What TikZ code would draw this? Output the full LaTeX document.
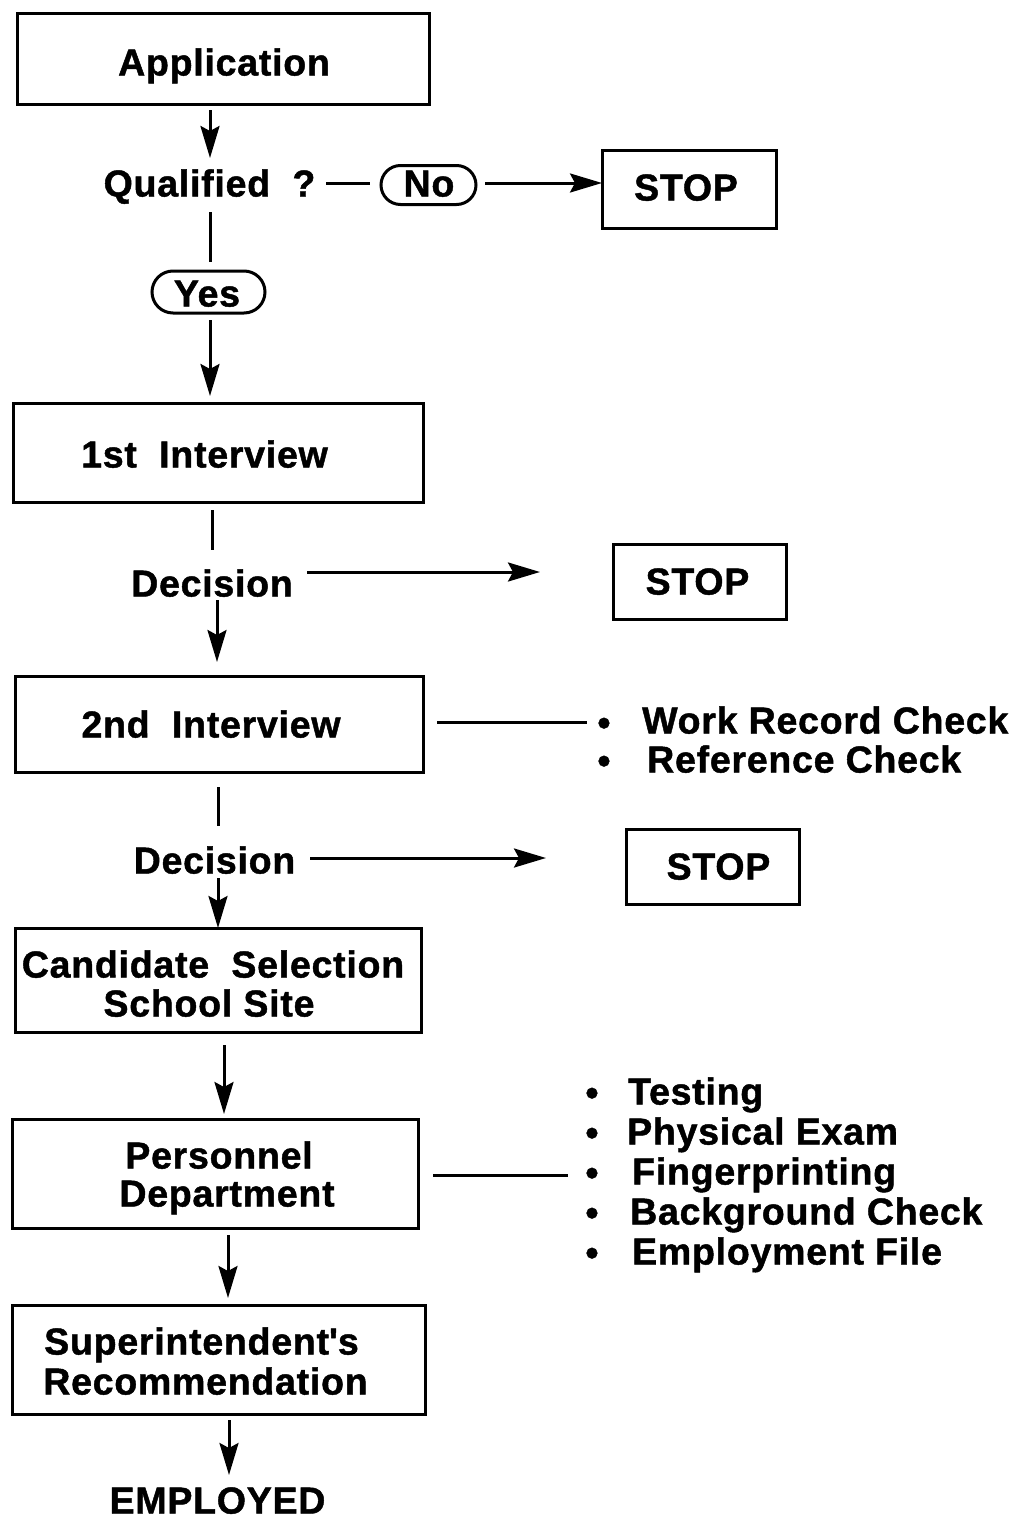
\documentclass[tikz,border=0pt]{standalone}
\usepackage{fontspec}
\setmainfont{Liberation Sans}[BoldFeatures={FakeBold=1.2,LetterSpace=2}]
\usetikzlibrary{arrows.meta,shapes.misc}
\begin{document}
\begin{tikzpicture}[x=1pt,y=-1pt,
  box/.style={draw,line width=3pt,inner sep=0pt},
  lbl/.style={font=\bfseries\fontsize{37.5}{40}\selectfont,inner sep=0pt,text height=27pt,text depth=0pt},
  ln/.style={line width=3pt},
  arr/.style={line width=3pt,-{Stealth[length=32pt,width=19pt,inset=5pt]}},
  oval/.style={draw,line width=3pt,rounded rectangle,inner sep=0pt}
]
\useasboundingbox (0,0) rectangle (1016,1520);
\fill[white] (0,0) rectangle (1016,1520);

% Application
\node[box,minimum width=412pt,minimum height=90pt] (app) at (223,59) {};
\node[lbl] (appT) at (224,62) {Application};

% Qualified
\node[lbl] (q) at (209.5,183) {Qualified\ \ ?};
\node[oval,minimum width=95pt,minimum height=39pt] (no) at (428.5,185) {};
\node[lbl] (noT) at (429,183) {No};
\node[box,minimum width=174pt,minimum height=78pt] (stop1) at (689,189) {};
\node[lbl] (stop1T) at (686,187) {STOP};
\node[oval,minimum width=113pt,minimum height=42pt] (yes) at (208.5,292) {};
\node[lbl] (yesT) at (207,293) {Yes};

\coordinate (a1s) at (210,110);
\coordinate (a1e) at (210,158);
\draw[arr] (a1s) -- (a1e);
\coordinate (q1) at (326,183);
\coordinate (q2) at (370,183);
\draw[ln] (q1) -- (q2);
\coordinate (n1) at (485,183);
\coordinate (n2) at (602,183);
\draw[arr] (n1) -- (n2);
\coordinate (y1) at (210,212);
\coordinate (y1e) at (210,262);
\draw[ln] (y1) -- (y1e);
\coordinate (y2) at (210,320);
\coordinate (y2e) at (210,396);
\draw[arr] (y2) -- (y2e);

% 1st interview
\node[box,minimum width=410pt,minimum height=99pt] (int1) at (218,452.5) {};
\node[lbl] (int1T) at (204.5,454) {1st\ \ Interview};
\coordinate (i1a) at (212,510);
\coordinate (i1b) at (212,550);
\draw[ln] (i1a) -- (i1b);
\node[lbl] (dec1) at (212,583) {Decision};
\node[box,minimum width=173pt,minimum height=75pt] (stop2) at (699.5,581.5) {};
\node[lbl] (stop2T) at (697.5,581) {STOP};
\coordinate (d1a) at (307,572);
\coordinate (d1b) at (540,572);
\draw[arr] (d1a) -- (d1b);
\coordinate (d1c) at (217,600);
\coordinate (d1d) at (217,662);
\draw[arr] (d1c) -- (d1d);

% 2nd interview
\node[box,minimum width=408pt,minimum height=96pt] (int2) at (219,724) {};
\node[lbl] (int2T) at (211,724) {2nd\ \ Interview};
\coordinate (w1) at (437,722);
\coordinate (w2) at (587,722);
\draw[ln] (w1) -- (w2);
\node[lbl] (b1) at (604,722) {•};
\node[lbl,anchor=west] (wr) at (642,720) {Work Record Check};
\node[lbl] (b2) at (604,760) {•};
\node[lbl,anchor=west] (rc) at (647,759) {Reference Check};

\coordinate (i2a) at (218,787);
\coordinate (i2b) at (218,826);
\draw[ln] (i2a) -- (i2b);
\node[lbl] (dec2) at (214.5,860) {Decision};
\node[box,minimum width=173pt,minimum height=75pt] (stop3) at (712.5,866.5) {};
\node[lbl] (stop3T) at (718.5,866) {STOP};
\coordinate (d2a) at (310,858);
\coordinate (d2b) at (546,858);
\draw[arr] (d2a) -- (d2b);
\coordinate (d2c) at (218,878);
\coordinate (d2d) at (218,928);
\draw[arr] (d2c) -- (d2d);

% Candidate
\node[box,minimum width=406pt,minimum height=104pt] (cand) at (218,980) {};
\node[lbl] (candT1) at (213,964) {Candidate\ \ Selection};
\node[lbl] (candT2) at (209,1003) {School Site};
\coordinate (c1) at (224,1045);
\coordinate (c2) at (224,1114);
\draw[arr] (c1) -- (c2);

% Personnel
\node[box,minimum width=406pt,minimum height=109pt] (pers) at (215,1173.5) {};
\node[lbl] (persT1) at (219,1155) {Personnel};
\node[lbl] (persT2) at (227,1193) {Department};
\coordinate (p1) at (433,1175);
\coordinate (p2) at (568,1175);
\draw[ln] (p1) -- (p2);
\node[lbl] (tb1) at (592,1092) {•};
\node[lbl,anchor=west] (t1) at (628,1091) {Testing};
\node[lbl] (tb2) at (592,1132) {•};
\node[lbl,anchor=west] (t2) at (627,1131) {Physical Exam};
\node[lbl] (tb3) at (592,1172) {•};
\node[lbl,anchor=west] (t3) at (632,1171) {Fingerprinting};
\node[lbl] (tb4) at (592,1212) {•};
\node[lbl,anchor=west] (t4) at (630,1211) {Background Check};
\node[lbl] (tb5) at (592,1252) {•};
\node[lbl,anchor=west] (t5) at (632,1251) {Employment File};

\coordinate (p3) at (228,1235);
\coordinate (p4) at (228,1298);
\draw[arr] (p3) -- (p4);

% Superintendent
\node[box,minimum width=413pt,minimum height=109pt] (sup) at (218.5,1359.5) {};
\node[lbl] (supT1) at (201.5,1341) {Superintendent\textquotesingle s};
\node[lbl] (supT2) at (205.5,1381) {Recommendation};
\coordinate (s1) at (229,1420);
\coordinate (s2) at (229,1475);
\draw[arr] (s1) -- (s2);
\node[lbl] (emp) at (217.5,1500) {EMPLOYED};
\end{tikzpicture}
\end{document}
